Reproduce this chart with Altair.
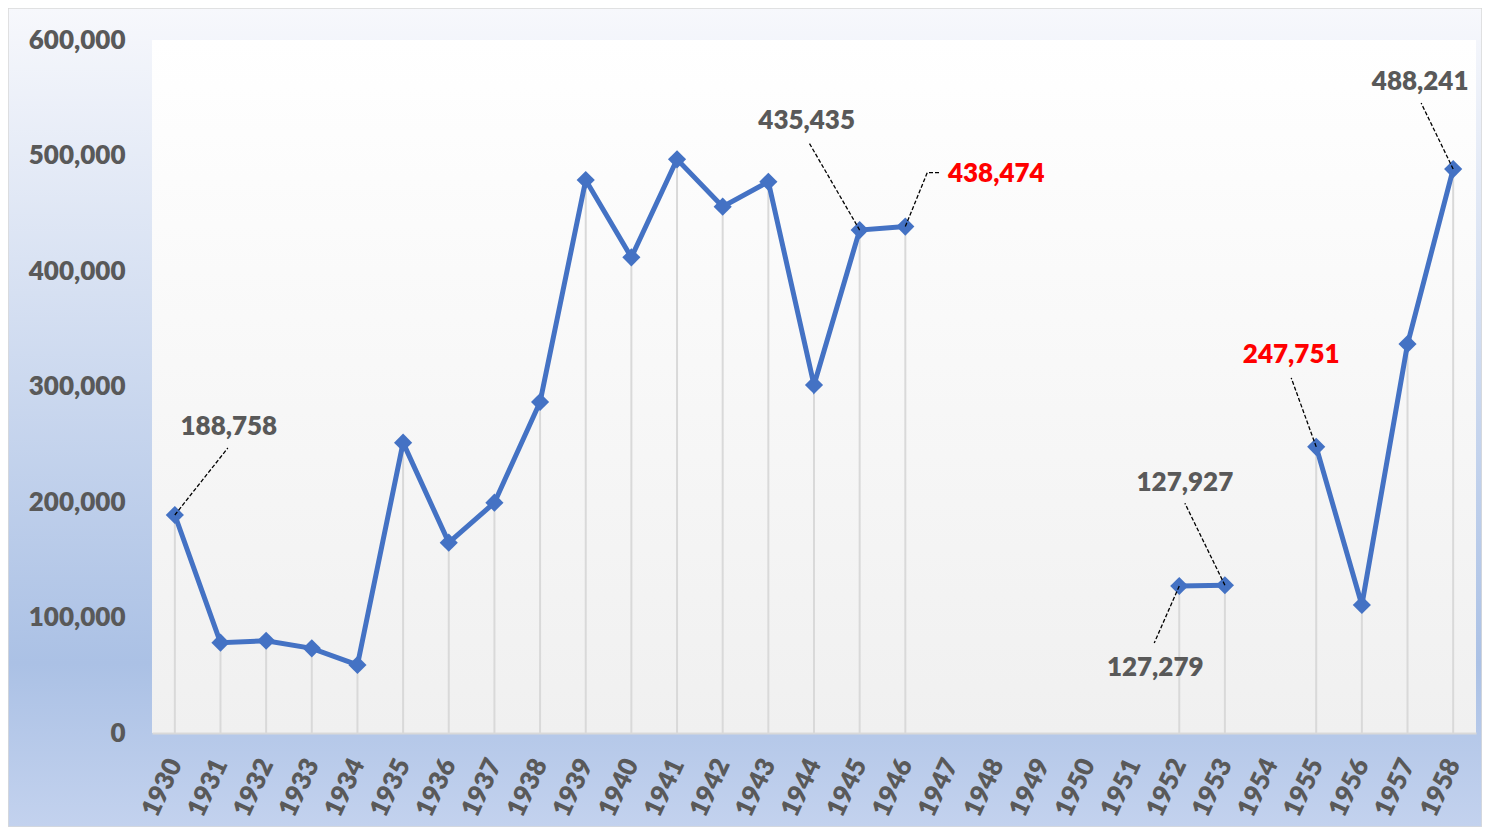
import altair as alt
import pandas as pd

# ---------------- data ----------------
years = list(range(1930, 1959))
values = [188758, 78200, 79900, 73300, 58900, 251400, 164800, 199400, 286600,
          478800, 411800, 496700, 455700, 477300, 301300, 435435, 438474,
          None, None, None, None, None,
          127279, 127927,
          None,
          247751, 110800, 336800, 488241]
y_ticks = [0, 100000, 200000, 300000, 400000, 500000, 600000]
label_years = [1930, 1945, 1946, 1952, 1953, 1955, 1958]
highlight_years = [1946, 1955]

# ---------------- layout ----------------
W, H = 1324, 693
PAD_L, PAD_T, PAD_R, PAD_B = 144, 32, 6, 94
Y_MAX = 600000
PX_PER_YEAR = W / 29.0
VAL_PER_PX = Y_MAX / H
FONT = "Lato"
WEIGHT = 800
GRAY = "#595959"
BLUE = "#4472C4"

# annotation placement: pixel offsets from each labelled point
text_offsets = {1930: (54, -88), 1945: (-53, -109), 1946: (91, -53),
                1952: (-24, 82), 1953: (-40, -102), 1955: (-25, -92),
                1958: (-33, -87)}
leader_paths = {1930: [(53, -67)], 1945: [(-51, -88)], 1946: [(22, -54), (35, -54)],
                1952: [(-25, 57)], 1953: [(-40, -82)], 1955: [(-25, -69)],
                1958: [(-32, -66)]}

df = pd.DataFrame({"year": years, "value": values})
val_of = dict(zip(years, values))

lab_rows, lead_rows = [], []
for y in label_years:
    v = val_of[y]
    dx, dy = text_offsets[y]
    lab_rows.append({"year": y, "value": v,
                     "tx": y + dx / PX_PER_YEAR, "ty": v - dy * VAL_PER_PX,
                     "color": "#FF0000" if y in highlight_years else GRAY})
    lead_rows.append({"id": y, "k": 0, "lx": y, "ly": v})
    for k, (ddx, ddy) in enumerate(leader_paths[y], start=1):
        lead_rows.append({"id": y, "k": k, "lx": y + ddx / PX_PER_YEAR,
                          "ly": v - ddy * VAL_PER_PX})
lab_df = pd.DataFrame(lab_rows)
lead_df = pd.DataFrame(lead_rows)

xscale = alt.Scale(domain=[1929.5, 1958.5], nice=False, zero=False)
yscale = alt.Scale(domain=[0, Y_MAX], nice=False)

x_axis = alt.Axis(values=years, format="d", labelAngle=-65, labelAlign="right",
                  labelBaseline="middle", labelPadding=27, labelFont=FONT,
                  labelFontSize=26, labelFontWeight=WEIGHT, labelColor=GRAY,
                  labelFlush=False, labelOverlap=False, ticks=False, tickSize=0,
                  grid=False, domain=True, domainColor="#d9d9d9", domainWidth=2,
                  title=None, zindex=1)
y_axis = alt.Axis(values=y_ticks, format=",.0f", labelPadding=27, labelFont=FONT,
                  labelFontSize=26, labelFontWeight=WEIGHT, labelColor=GRAY,
                  ticks=False, tickSize=0, grid=False, domain=False, title=None,
                  zindex=1)


def X(field):
    return alt.X(field, type="quantitative", scale=xscale, axis=x_axis)


def Y(field):
    return alt.Y(field, type="quantitative", scale=yscale, axis=y_axis)


one = pd.DataFrame({"a": [0]})

outer_bg = alt.Chart(one).mark_rect(
    fill=alt.Gradient(gradient="linear",
                      stops=[alt.GradientStop(color="#f7f8fc", offset=0),
                             alt.GradientStop(color="#abc1e5", offset=0.8),
                             alt.GradientStop(color="#c3d2ee", offset=1)],
                      x1=0, x2=0, y1=0, y2=1),
    stroke="#d9d9d9", strokeWidth=1.5
).encode(x=alt.value(-PAD_L), x2=alt.value(W + PAD_R), y=alt.value(-PAD_T),
         y2=alt.value(H + PAD_B))

plot_bg = alt.Chart(one).mark_rect(
    fill=alt.Gradient(gradient="linear",
                      stops=[alt.GradientStop(color="#ffffff", offset=0),
                             alt.GradientStop(color="#f0f0f0", offset=1)],
                      x1=0, x2=0, y1=0, y2=1)
).encode(x=alt.value(0), x2=alt.value(W), y=alt.value(0), y2=alt.value(H))

base = alt.Chart(df)
drops = base.mark_rule(color="#d9d9d9", strokeWidth=2).encode(
    x=X("year"), y=Y("value"), y2=alt.datum(0))
line = base.mark_line(color=BLUE, strokeWidth=5).encode(x=X("year"), y=Y("value"))
pts = base.mark_point(shape="diamond", filled=True, size=330, color=BLUE, opacity=1).encode(
    x=X("year"), y=Y("value"))

leaders = alt.Chart(lead_df).mark_line(color="#000000", strokeWidth=1.3,
                                       strokeDash=[4, 2]).encode(
    x=X("lx"), y=Y("ly"), detail="id:N", order="k:Q")

labels = alt.Chart(lab_df).mark_text(font=FONT, fontSize=26, fontWeight=WEIGHT,
                                     align="center", baseline="middle").encode(
    x=X("tx"), y=Y("ty"),
    text=alt.Text("value:Q", format=","),
    color=alt.Color("color:N", scale=None))

chart = alt.layer(outer_bg, plot_bg, drops, line, pts, leaders, labels).properties(
    width=W, height=H,
    autosize=alt.AutoSizeParams(type="none"),
    padding={"left": PAD_L, "top": PAD_T, "right": PAD_R, "bottom": PAD_B},
    background="white"
).configure_view(stroke=None)

chart.save("out.html", embed_options={"renderer": "svg", "actions": False})
